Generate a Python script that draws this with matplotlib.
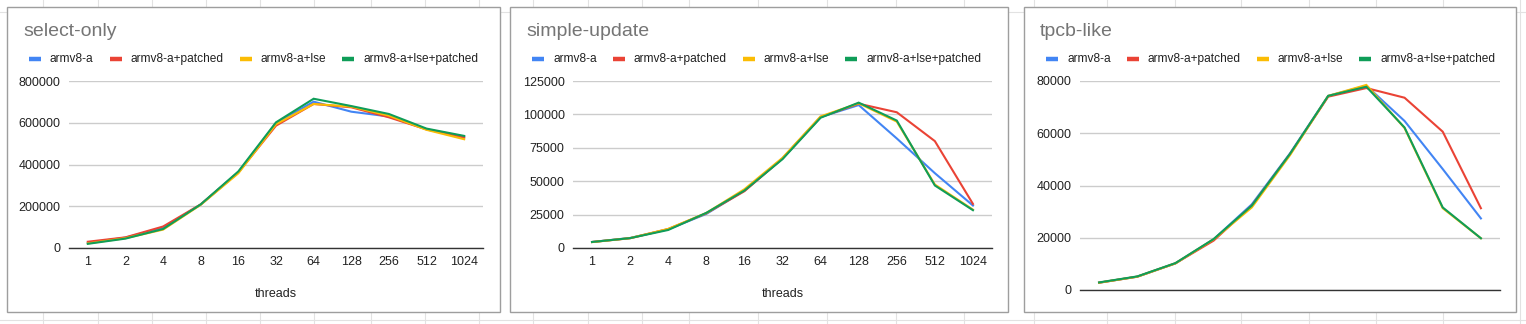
import matplotlib
matplotlib.use("Agg")
import matplotlib.pyplot as plt
from matplotlib.patches import Rectangle
from matplotlib.lines import Line2D

plt.rcParams['font.family'] = ['Liberation Sans', 'DejaVu Sans']

# ---------------- data ----------------
threads = ["1", "2", "4", "8", "16", "32", "64", "128", "256", "512", "1024"]
series_names = ["armv8-a", "armv8-a+patched", "armv8-a+lse", "armv8-a+lse+patched"]
colors = ["#4285F4", "#EA4335", "#FBBC04", "#0F9D58"]

select_armv8 = [25000, 50000, 97000, 208000, 363000, 598000, 701000, 653000, 630000, 569000, 533000]
select_patched = [30000, 51000, 103000, 209000, 362000, 586000, 690000, 674000, 626000, 568000, 529000]
select_lse = [22000, 47000, 88000, 207000, 358000, 593000, 690000, 677000, 634000, 566000, 521000]
select_lse_patched = [20000, 45000, 91000, 209000, 367000, 602000, 715000, 680000, 642000, 572000, 537000]

update_armv8 = [4500, 7500, 14000, 25500, 43000, 67000, 98000, 107000, 82000, 56000, 31800]
update_patched = [4500, 7300, 14200, 26000, 42500, 67000, 98000, 108000, 101600, 80000, 33000]
update_lse = [4400, 7400, 14300, 26200, 44000, 67500, 98500, 108300, 94600, 47500, 28700]
update_lse_patched = [4500, 7400, 13500, 26300, 43000, 66500, 97500, 108800, 95400, 46800, 28300]

tpcb_armv8 = [2800, 5100, 10200, 19400, 32800, 52300, 74300, 78200, 64700, 46300, 27400]
tpcb_patched = [2800, 5100, 10200, 18900, 32300, 52000, 74000, 77300, 73600, 60600, 31300]
tpcb_lse = [2800, 5100, 10200, 19400, 31600, 51600, 74300, 78500, 62000, 31300, 19800]
tpcb_lse_patched = [2900, 5200, 10300, 19500, 32300, 52100, 74300, 77800, 62200, 31600, 19800]

panels = [
    dict(title="select-only",
         data=[select_armv8, select_patched, select_lse, select_lse_patched],
         yticks=[0, 200000, 400000, 600000, 800000], xlabels=True),
    dict(title="simple-update",
         data=[update_armv8, update_patched, update_lse, update_lse_patched],
         yticks=[0, 25000, 50000, 75000, 100000, 125000], xlabels=True),
    dict(title="tpcb-like",
         data=[tpcb_armv8, tpcb_patched, tpcb_lse, tpcb_lse_patched],
         yticks=[0, 20000, 40000, 60000, 80000], xlabels=False),
]

# ---------------- layout (pixels) ----------------
W, H = 1526, 324
fig = plt.figure(figsize=(W / 100, H / 100), dpi=100)
fig.patch.set_facecolor("white")

def fx(x):
    return x / W

def fy(y):
    return 1 - y / H

# spreadsheet background grid
for xv in [43, 98, 152, 206, 260, 314, 371, 425, 479, 533, 588, 642, 689, 758,
           827, 896, 964, 1034, 1107, 1175, 1241, 1309, 1376, 1443, 1520]:
    fig.add_artist(Line2D([fx(xv), fx(xv)], [0, 1], color="#e2e2e2", lw=0.8, zorder=0))
for yv in [12, 320]:
    fig.add_artist(Line2D([0, 1], [fy(yv), fy(yv)], color="#e2e2e2", lw=0.8, zorder=0))

boxes = [(7, 500, 7, 312), (510, 1008, 7, 312), (1024, 1516, 7, 312)]
plot_areas = [(69, 483, 81, 248), (573, 992, 81, 248), (1080, 1500, 81, 290)]

fig.canvas.draw()
renderer = fig.canvas.get_renderer()

for p, box, area in zip(panels, boxes, plot_areas):
    bx0, bx1, by0, by1 = box
    fig.add_artist(Rectangle((fx(bx0), fy(by1)), (bx1 - bx0) / W, (by1 - by0) / H,
                             facecolor="white", edgecolor="#9e9e9e", lw=1.0, zorder=1))
    # title
    fig.text(fx(bx0 + 16), fy(32), p["title"], fontsize=14, color="#757575",
             ha="left", va="center", zorder=3)
    # legend
    x = bx0 + 22
    for name, c in zip(series_names, colors):
        fig.add_artist(Line2D([fx(x), fx(x + 12)], [fy(59), fy(59)], color=c,
                              lw=3.2, solid_capstyle="butt", zorder=3))
        t = fig.text(fx(x + 21), fy(59), name, fontsize=8.6, color="#222222",
                     ha="left", va="center", zorder=3)
        bb = t.get_window_extent(renderer=renderer)
        x = bb.x1 + 16

    ax0, ax1, ay0, ay1 = area
    ax = fig.add_axes([fx(ax0), fy(ay1), (ax1 - ax0) / W, (ay1 - ay0) / H], zorder=2)
    ax.set_facecolor("none")
    xs = list(range(len(threads)))
    for vals, c in zip(p["data"], colors):
        ax.plot(xs, vals, color=c, lw=1.5, solid_joinstyle="miter", zorder=3)
    ax.set_xlim(-0.5, len(threads) - 0.5)
    ax.set_ylim(0, p["yticks"][-1])
    ax.set_yticks(p["yticks"])
    ax.set_yticklabels([str(v) for v in p["yticks"]])
    ax.grid(axis="y", color="#cccccc", lw=1)
    ax.set_axisbelow(True)
    for s in ["top", "right", "left"]:
        ax.spines[s].set_visible(False)
    ax.spines["bottom"].set_color("#333333")
    ax.spines["bottom"].set_linewidth(1)
    ax.spines["bottom"].set_zorder(4)
    ax.tick_params(axis="y", length=0, pad=6, labelsize=9, labelcolor="#222222")
    if p["xlabels"]:
        ax.set_xticks(xs)
        ax.set_xticklabels(threads)
        ax.tick_params(axis="x", length=0, pad=6, labelsize=9, labelcolor="#222222")
        ax.set_xlabel("threads", fontsize=9, color="#222222", labelpad=14)
    else:
        ax.set_xticks([])

fig.savefig("out.png", dpi=100, facecolor="white")
